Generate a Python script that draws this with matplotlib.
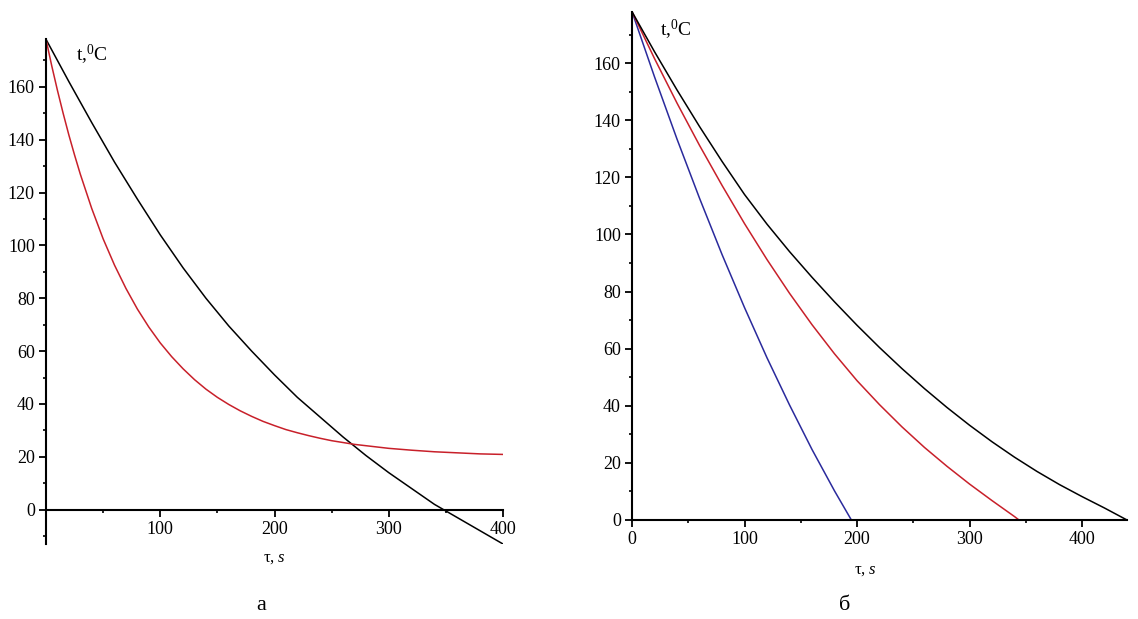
import matplotlib
matplotlib.use("Agg")
import matplotlib.pyplot as plt
from matplotlib.ticker import MultipleLocator, FixedLocator

plt.rcParams['font.family'] = ['Liberation Serif', 'DejaVu Serif']
plt.rcParams['mathtext.fontset'] = 'custom'
plt.rcParams['mathtext.rm'] = 'Liberation Serif'
plt.rcParams['mathtext.it'] = 'Liberation Serif:italic'

# panel a
tau_a_black = [0, 20, 40, 60, 80, 100, 120, 140, 160, 180, 200, 220, 240, 260, 280, 300, 320, 340, 360, 380, 400]
temp_a_black = [178, 162, 146.5, 131.5, 117.5, 104, 91.5, 80, 69.5, 60, 51, 42.5, 35, 27.5, 20.5, 14, 8, 2, -3, -8, -13]
tau_a_red = [0, 5, 10, 15, 20, 25, 30, 40, 50, 60, 70, 80, 90, 100, 110, 120, 130, 140, 150, 160, 170, 180, 190, 200,
             210, 220, 230, 240, 250, 260, 270, 280, 290, 300, 320, 340, 360, 380, 400]
temp_a_red = [178, 168, 158.7, 150, 141.8, 134.2, 127, 114, 102.5, 92.5, 83.7, 75.9, 69.1, 63.1, 57.9, 53.3, 49.2, 45.6,
              42.5, 39.8, 37.4, 35.3, 33.4, 31.8, 30.3, 29.1, 28, 27, 26.1, 25.4, 24.7, 24.2, 23.7, 23.2, 22.5, 21.9,
              21.5, 21.1, 20.9]

# panel b
tau_b_blue = [0, 20, 40, 60, 80, 100, 120, 140, 160, 180, 195]
temp_b_blue = [178, 155.2, 133.4, 112.7, 93, 74.4, 56.8, 40.3, 24.7, 10.2, 0]
tau_b_red = [0, 20, 40, 60, 80, 100, 120, 140, 160, 180, 200, 220, 240, 260, 280, 300, 320, 340, 344]
temp_b_red = [178, 161.6, 146, 131.2, 117.2, 103.8, 91.2, 79.4, 68.4, 58.2, 48.8, 40.4, 32.6, 25.4, 18.8, 12.6, 6.8, 1.2, 0]
tau_b_black = [0, 20, 40, 60, 80, 100, 120, 140, 160, 180, 200, 220, 240, 260, 280, 300, 320, 340, 360, 380, 400, 420, 440]
temp_b_black = [178, 164, 150.6, 137.8, 125.6, 114, 103.6, 94, 85, 76.4, 68.2, 60.4, 53, 46, 39.4, 33.2, 27.4, 22, 17,
                12.4, 8.2, 4.2, 0]

RED = '#c8202a'
BLUE = '#2a2a9c'
W, H = 1138, 619

fig = plt.figure(figsize=(W / 100, H / 100), dpi=100)


def style_axes(ax):
    for side in ('top', 'right'):
        ax.spines[side].set_visible(False)
    ax.spines['left'].set_position(('data', 0))
    ax.spines['bottom'].set_position(('data', 0))
    for side in ('left', 'bottom'):
        ax.spines[side].set_linewidth(1.5)
    ax.tick_params(which='major', direction='out', length=5, width=1.3, labelsize=13, pad=3)
    ax.tick_params(which='minor', direction='out', length=2.5, width=1.2)
    ax.yaxis.set_major_locator(FixedLocator([0, 20, 40, 60, 80, 100, 120, 140, 160]))
    ax.yaxis.set_minor_locator(MultipleLocator(10))
    ax.patch.set_alpha(0)


ax1 = fig.add_axes([46 / W, 75 / H, 457 / W, 504.7 / H])
ax1.plot(tau_a_black, temp_a_black, color='black', lw=1.1)
ax1.plot(tau_a_red, temp_a_red, color=RED, lw=1.1)
ax1.set_xlim(0, 400)
ax1.set_ylim(-13, 178)
style_axes(ax1)
ax1.xaxis.set_major_locator(FixedLocator([100, 200, 300, 400]))
ax1.xaxis.set_minor_locator(FixedLocator([50, 150, 250, 350]))
ax1.text(76 / W, 1 - 55 / H, r't,$^{\rm 0}$C', transform=fig.transFigure, fontsize=14, va='center')

ax2 = fig.add_axes([632 / W, 99 / H, 495 / W, 508.3 / H])
ax2.plot(tau_b_blue, temp_b_blue, color=BLUE, lw=1.1)
ax2.plot(tau_b_red, temp_b_red, color=RED, lw=1.1)
ax2.plot(tau_b_black, temp_b_black, color='black', lw=1.1)
ax2.set_xlim(0, 440)
ax2.set_ylim(0, 178)
style_axes(ax2)
ax2.xaxis.set_major_locator(FixedLocator([0, 100, 200, 300, 400]))
ax2.xaxis.set_minor_locator(FixedLocator([50, 150, 250, 350]))
ax2.text(660 / W, 1 - 30 / H, r't,$^{\rm 0}$C', transform=fig.transFigure, fontsize=14, va='center')

# axis labels and captions
fig.text(274 / W, 1 - 558 / H, r'τ, $\it{s}$', fontsize=12, ha='center', va='center')
fig.text(865 / W, 1 - 570 / H, r'τ, $\it{s}$', fontsize=12, ha='center', va='center')
fig.text(261 / W, 1 - 605 / H, 'а', fontsize=16, ha='center', va='center')
fig.text(845 / W, 1 - 605 / H, 'б', fontsize=16, ha='center', va='center')

fig.savefig('out.png', dpi=100)
